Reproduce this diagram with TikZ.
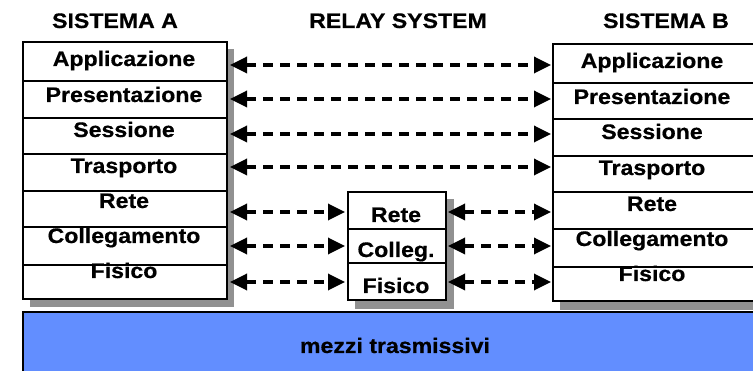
\documentclass[tikz,border=0pt]{standalone}
\usepackage{fontspec}
\setmainfont{Liberation Sans}[FakeStretch=1.1, BoldFeatures={FakeBold=0.6}]
\usetikzlibrary{arrows.meta}
\definecolor{shadowgray}{RGB}{145,145,145}
\definecolor{mediumblue}{RGB}{98,142,255}
\begin{document}
\begin{tikzpicture}[x=1pt,y=-1pt,
  layerbox/.style={draw=black, line width=2.2pt, fill=white, inner sep=0pt, anchor=north west},
  lbl/.style={anchor=base, inner sep=0pt, font=\fontsize{21}{25}\selectfont\bfseries},
  shadowbox/.style={fill=shadowgray},
  peer/.style={line width=3.4pt, dash pattern=on 10pt off 7pt,
    {Triangle[length=17pt,width=16pt]}-{Triangle[length=17pt,width=16pt]}}]
\useasboundingbox (0,0) rectangle (753,371);
\clip (0,0) rectangle (753,371);

% titles
\node[lbl] (ta) at (115,28) {SISTEMA A};
\node[lbl] (tr) at (398,28) {RELAY SYSTEM};
\node[lbl] (tb) at (666,28) {SISTEMA B};

% shadows
\fill[shadowbox] (30,49) rectangle (234,307);
\fill[shadowbox] (355,199) rectangle (454,309);
\fill[shadowbox] (560,51) rectangle (775,310);

% Sistema A
\node[layerbox, minimum width=204pt, minimum height=39pt] (a1) at (22,41) {};
\node[layerbox, minimum width=204pt, minimum height=37pt] (a2) at (22,80) {};
\node[layerbox, minimum width=204pt, minimum height=36pt] (a3) at (22,117) {};
\node[layerbox, minimum width=204pt, minimum height=37pt] (a4) at (22,153) {};
\node[layerbox, minimum width=204pt, minimum height=36pt] (a5) at (22,190) {};
\node[layerbox, minimum width=204pt, minimum height=38pt] (a6) at (22,226) {};
\node[layerbox, minimum width=204pt, minimum height=34pt] (a7) at (22,264) {};
\node[lbl] at (124,66) {Applicazione};
\node[lbl] at (124,102) {Presentazione};
\node[lbl] at (124,137) {Sessione};
\node[lbl] at (124,173) {Trasporto};
\node[lbl] at (124,208) {Rete};
\node[lbl] at (124,243) {Collegamento};
\node[lbl] at (124,278) {Fisico};

% Sistema B
\node[layerbox, minimum width=215pt, minimum height=39pt] (b1) at (552,43) {};
\node[layerbox, minimum width=215pt, minimum height=36pt] (b2) at (552,82) {};
\node[layerbox, minimum width=215pt, minimum height=37pt] (b3) at (552,118) {};
\node[layerbox, minimum width=215pt, minimum height=36pt] (b4) at (552,155) {};
\node[layerbox, minimum width=215pt, minimum height=37pt] (b5) at (552,191) {};
\node[layerbox, minimum width=215pt, minimum height=38pt] (b6) at (552,228) {};
\node[layerbox, minimum width=215pt, minimum height=34pt] (b7) at (552,266) {};
\node[lbl] at (652,68) {Applicazione};
\node[lbl] at (652,104) {Presentazione};
\node[lbl] at (652,139) {Sessione};
\node[lbl] at (652,175) {Trasporto};
\node[lbl] at (652,211) {Rete};
\node[lbl] at (652,246) {Collegamento};
\node[lbl] at (652,281) {Fisico};

% Relay system
\node[layerbox, minimum width=98pt, minimum height=37pt] (r1) at (347,191) {};
\node[layerbox, minimum width=98pt, minimum height=34pt] (r2) at (347,228) {};
\node[layerbox, minimum width=98pt, minimum height=37pt] (r3) at (347,262) {};
\node[lbl] at (396,222) {Rete};
\node[lbl] at (396,257) {Colleg.};
\node[lbl] at (396,293) {Fisico};

% transmission media
\node[draw=black, line width=2.2pt, fill=mediumblue, anchor=north west,
      minimum width=760pt, minimum height=80pt, inner sep=0pt] (media) at (22,311) {};
\node[lbl] (mt) at (395,353) {mezzi trasmissivi};

% arrow end points
\coordinate (la1) at (230,65);  \coordinate (rb1) at (551,65);
\coordinate (la2) at (230,99);  \coordinate (rb2) at (551,99);
\coordinate (la3) at (230,134); \coordinate (rb3) at (551,134);
\coordinate (la4) at (230,167); \coordinate (rb4) at (551,167);
\coordinate (la5) at (230,212); \coordinate (rl5) at (345,212);
\coordinate (la6) at (230,246); \coordinate (rl6) at (345,246);
\coordinate (la7) at (230,282); \coordinate (rl7) at (345,282);
\coordinate (rr5) at (448,212); \coordinate (rb5) at (551,212);
\coordinate (rr6) at (448,246); \coordinate (rb6) at (551,246);
\coordinate (rr7) at (448,282); \coordinate (rb7) at (551,282);

\draw[peer] (la1) -- (rb1);
\draw[peer] (la2) -- (rb2);
\draw[peer] (la3) -- (rb3);
\draw[peer] (la4) -- (rb4);
\draw[peer] (la5) -- (rl5);
\draw[peer] (la6) -- (rl6);
\draw[peer] (la7) -- (rl7);
\draw[peer] (rr5) -- (rb5);
\draw[peer] (rr6) -- (rb6);
\draw[peer] (rr7) -- (rb7);
\end{tikzpicture}
\end{document}
